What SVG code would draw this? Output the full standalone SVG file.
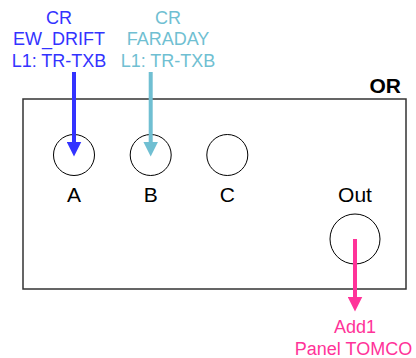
<svg xmlns="http://www.w3.org/2000/svg" width="416" height="358" viewBox="0 0 416 358">
<style>
text{font-family:"Liberation Sans",Arial,sans-serif;text-anchor:middle}
.lbl{font-size:18px}
.port{font-size:21px;fill:#000}
.or{font-size:21px;font-weight:bold;fill:#000;text-anchor:end}
.c{fill:none;stroke:#000;stroke-width:1}
.box{fill:#fff;stroke:#333;stroke-width:1.5}
.blue{fill:#3333FF}
.cyan{fill:#70BFD2}
.pink{fill:#FF3399}
.ln{fill:none;stroke-width:4}
</style>
<defs>
<marker id="hb" viewBox="0 0 15 15" refX="6.5" refY="7.5" markerWidth="15" markerHeight="15" markerUnits="userSpaceOnUse" orient="auto"><path d="M0,0L15,7.5L0,15z" fill="#3333FF"/></marker>
<marker id="hc" viewBox="0 0 15 15" refX="6.5" refY="7.5" markerWidth="15" markerHeight="15" markerUnits="userSpaceOnUse" orient="auto"><path d="M0,0L15,7.5L0,15z" fill="#70BFD2"/></marker>
<marker id="hp" viewBox="0 0 15 15" refX="6.5" refY="7.5" markerWidth="15" markerHeight="15" markerUnits="userSpaceOnUse" orient="auto"><path d="M0,0L15,7.5L0,15z" fill="#FF3399"/></marker>
</defs>
<g id="or-block">
<rect class="box" x="23" y="99" width="383" height="190"/>
<text class="or" x="401" y="92.5">OR</text>
</g>
<g id="port-a"><circle class="c" cx="74" cy="155" r="20.5"/><text class="port" x="74" y="201.5">A</text></g>
<g id="port-b"><circle class="c" cx="150.7" cy="155" r="20.5"/><text class="port" x="150.7" y="201.5">B</text></g>
<g id="port-c"><circle class="c" cx="227.3" cy="155" r="20.5"/><text class="port" x="227.3" y="201.5">C</text></g>
<g id="port-out"><circle class="c" cx="355" cy="239" r="25"/><text class="port" x="355" y="201.5">Out</text></g>
<g id="src-ew">
<text class="lbl blue" x="59" y="24">CR</text>
<text class="lbl blue" x="59" y="45">EW_DRIFT</text>
<text class="lbl blue" x="59" y="66.5">L1: TR-TXB</text>
</g>
<g id="src-faraday">
<text class="lbl cyan" x="168" y="24">CR</text>
<text class="lbl cyan" x="168" y="45">FARADAY</text>
<text class="lbl cyan" x="168" y="66.5">L1: TR-TXB</text>
</g>
<g id="dst-tomco">
<text class="lbl pink" x="355" y="333.3">Add1</text>
<text class="lbl pink" x="353.5" y="354.5">Panel TOMCO</text>
</g>
<g id="connectors">
<line class="ln" x1="74" y1="72" x2="74" y2="148" stroke="#3333FF" marker-end="url(#hb)"/>
<line class="ln" x1="150.7" y1="72" x2="150.7" y2="148" stroke="#70BFD2" marker-end="url(#hc)"/>
<line class="ln" x1="355" y1="239" x2="355" y2="303" stroke="#FF3399" marker-end="url(#hp)"/>
</g>
</svg>
